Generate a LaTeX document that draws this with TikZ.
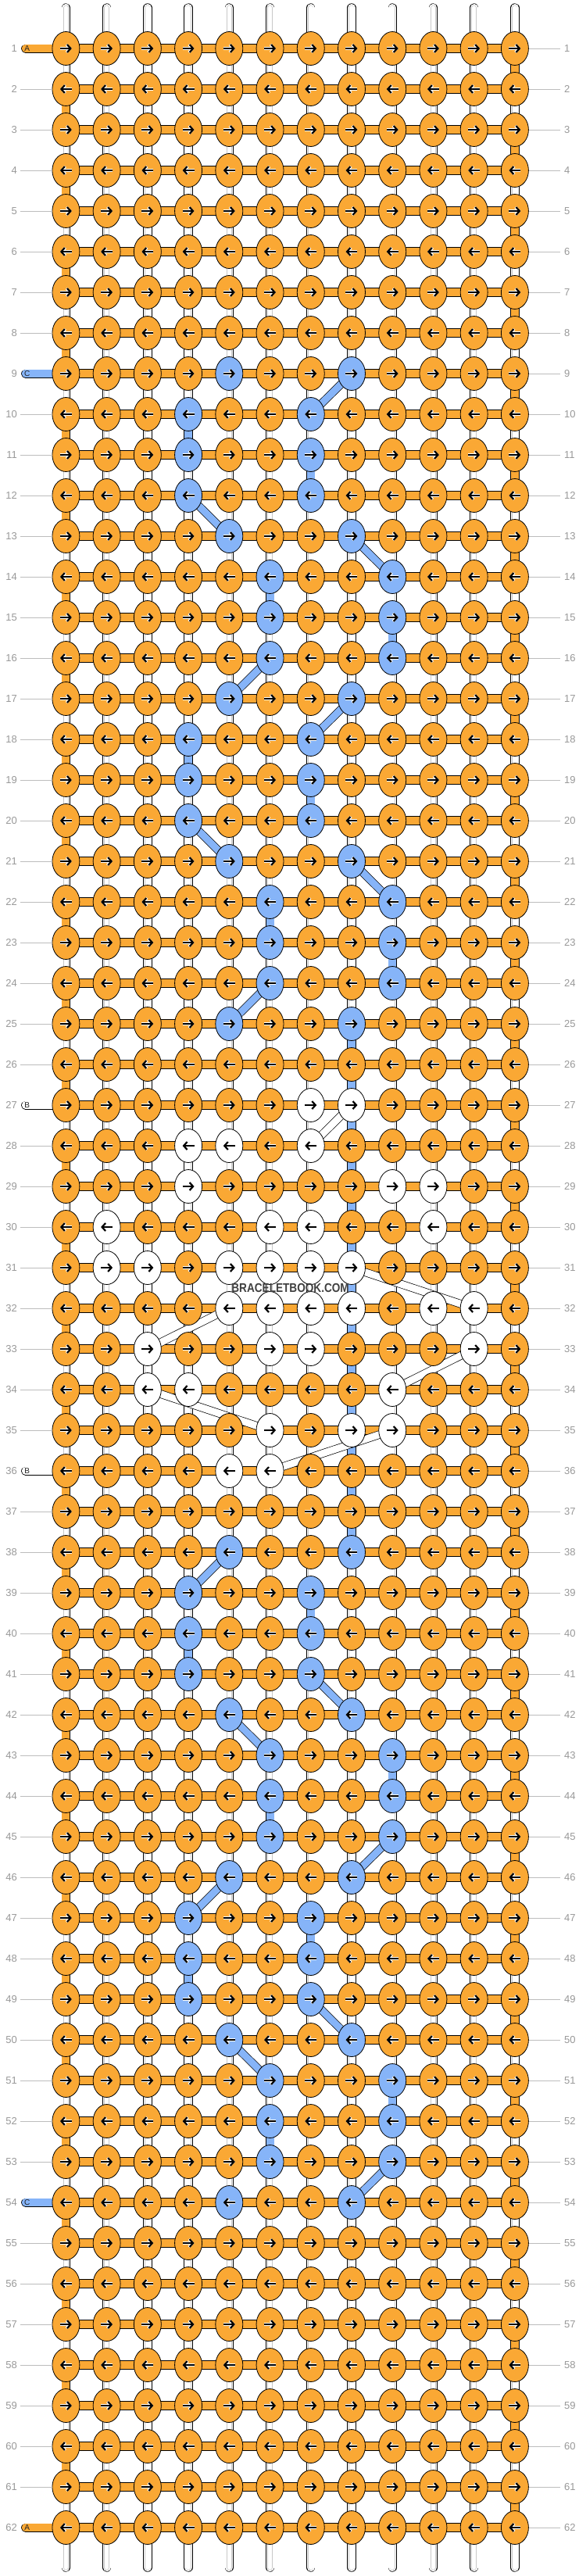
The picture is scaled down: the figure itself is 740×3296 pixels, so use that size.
\documentclass[tikz,border=0pt]{standalone}
\usepackage{fontspec}
\setmainfont{Liberation Sans}
\usetikzlibrary{shapes.geometric,arrows.meta}
\definecolor{og}{HTML}{FAA834}
\definecolor{bl}{HTML}{86B4F8}
\definecolor{wt}{HTML}{FFFFFF}
\definecolor{lblgray}{HTML}{999999}
\definecolor{linegray}{HTML}{BDBDBD}
\definecolor{innergray}{HTML}{C8C8C8}
\definecolor{wmgray}{HTML}{404040}
\definecolor{stubtxt}{HTML}{222222}
\newcommand\setknot[3]{\expandafter\gdef\csname kc-#1-#2\endcsname{#3}}
\newcommand\getknot[2]{\ifcsname kc-#1-#2\endcsname\csname kc-#1-#2\endcsname\else og\fi}
\newcommand\setvc[3]{\expandafter\gdef\csname vc-#1-#2\endcsname{#3}}
\newcommand\getvc[2]{\ifcsname vc-#1-#2\endcsname\csname vc-#1-#2\endcsname\else wt\fi}
\newcommand\colx[1]{84.4+52.227*(#1-1)}
\newcommand\rowy[1]{62+52*(#1-1)}
\def\wtname{wt}
\tikzset{
  knot/.style={ellipse, minimum width=35pt, minimum height=43pt, inner sep=0pt, draw=black, line width=0.8pt},
  hbar/.style={draw=black, double=og, double distance=10.6pt, line width=0.7pt},
  vbar/.style={draw=black, double distance=10pt, line width=0.7pt},
  dbar/.style={draw=black, double distance=9pt, line width=0.7pt},
  thread/.style={draw=black, double=white, double distance=10pt, line width=0.7pt, line cap=round},
  innerA/.style={draw=innergray, line width=7pt},
  innerB/.style={draw=white, line width=5.6pt},
  stubline/.style={draw=black, double distance=9.6pt, line width=0.7pt, line cap=round},
  arr/.style={black, line width=2.2pt, -{Straight Barb[length=4.5pt,width=10pt]}},
  arrhalo/.style={white, line width=3.4pt, -{Straight Barb[length=4.5pt,width=10pt]}},
  lbl/.style={inner sep=0pt, text=lblgray, font=\fontsize{13}{13}\selectfont},
  stublbl/.style={inner sep=0pt, text=stubtxt, font=\fontsize{10}{10}\selectfont},
  guide/.style={draw=linegray, line width=0.9pt}
}
\begin{document}
\begin{tikzpicture}[x=1pt,y=-1pt]
\useasboundingbox (0,0) rectangle (740,3296);
\fill[white] (0,0) rectangle (740,3296);
% ---- data ----
\foreach \r in {9,13,17,21,25,38,42,46,50,54} {\setknot{\r}{5}{bl}\setknot{\r}{8}{bl}}
\foreach \r in {10,11,12,18,19,20,39,40,41,47,48,49} {\setknot{\r}{4}{bl}\setknot{\r}{7}{bl}}
\foreach \r in {14,15,16,22,23,24,43,44,45,51,52,53} {\setknot{\r}{6}{bl}\setknot{\r}{9}{bl}}
\foreach \r/\lst in {27/{7,8},28/{4,5,7},29/{4,9,10},30/{2,6,7,10},31/{2,3,5,6,7,8},32/{5,6,7,8,10,11},33/{3,6,7,11},34/{3,4,9},35/{6,8,9},36/{5,6}} {\foreach \c in \lst {\setknot{\r}{\c}{wt}}}
\foreach \r in {2,4,...,60} {\setvc{\r}{1}{og}}
\foreach \r in {1,3,...,61} {\setvc{\r}{12}{og}}
\foreach \r in {10,18,40,48} {\setvc{\r}{4}{bl}}
\foreach \r in {11,19,39,47} {\setvc{\r}{7}{bl}}
\foreach \r in {14,22,44,52} {\setvc{\r}{6}{bl}}
\foreach \r in {15,23,43,51} {\setvc{\r}{9}{bl}}
\foreach \r in {25,...,37} {\setvc{\r}{8}{bl}}
% ---- coordinates ----
\foreach \r in {1,...,62} {\foreach \c in {1,...,12} {\coordinate (p-\r-\c) at ({\colx{\c}},{\rowy{\r}});}}
% ---- threads top / bottom ----
\foreach \c in {1,...,12} {
  \coordinate (tt-\c) at ({\colx{\c}},10);
  \coordinate (bt-\c) at ({\colx{\c}},3285);
  \draw[thread] (tt-\c) -- (p-1-\c);
  \draw[innerA, line cap=round] (tt-\c) -- (p-1-\c);
  \draw[innerB, line cap=round] (tt-\c) -- (p-1-\c);
  \draw[thread] (p-62-\c) -- (bt-\c);
  \draw[innerA, line cap=round] (p-62-\c) -- (bt-\c);
  \draw[innerB, line cap=round] (p-62-\c) -- (bt-\c);
}
% ---- horizontal bars ----
\foreach \r in {1,...,62} {\foreach \c [count=\cn from 2] in {1,...,11} {\draw[hbar] (p-\r-\c) -- (p-\r-\cn);}}
% ---- vertical connectors ----
\foreach \r [count=\rn from 2] in {1,...,61} {\foreach \c in {1,...,12} {
  \edef\vcc{\getvc{\r}{\c}}
  \draw[vbar, double=\vcc] (p-\r-\c) -- (p-\rn-\c);
  \ifx\vcc\wtname
    \draw[innerA] (p-\r-\c) -- (p-\rn-\c);
    \draw[innerB] (p-\r-\c) -- (p-\rn-\c);
  \fi
}}
% ---- diagonals ----
\foreach \ra/\ca/\rb/\cb in {9/8/10/7,12/4/13/5,13/8/14/9,16/6/17/5,17/8/18/7,20/4/21/5,21/8/22/9,24/6/25/5,38/5/39/4,41/7/42/8,42/5/43/6,45/9/46/8,46/5/47/4,49/7/50/8,50/5/51/6,53/9/54/8} {\draw[dbar, double=bl] (p-\ra-\ca) -- (p-\rb-\cb);}
\foreach \ra/\ca/\rb/\cb in {27/8/28/7,31/8/32/11,32/5/33/3,33/11/34/9,34/3/35/6,35/9/36/6} {\draw[dbar, double=wt] (p-\ra-\ca) -- (p-\rb-\cb);}
% ---- stubs ----
\foreach \r/\col in {1/og,9/bl,27/wt,36/wt,54/bl,62/og} {
  \coordinate (s-\r) at (32.6,{\rowy{\r}});
  \draw[stubline, double=\col] (s-\r) -- (p-\r-1);
}
% ---- knots ----
\foreach \r in {1,...,62} {\foreach \c in {1,...,12} {
  \edef\kc{\getknot{\r}{\c}}
  \node[knot, fill=\kc] (k-\r-\c) at (p-\r-\c) {};
  \ifodd\r
    \draw[arrhalo] ([xshift=-7.5pt]k-\r-\c.center) -- ([xshift=7.5pt]k-\r-\c.center);
    \draw[arr] ([xshift=-7.5pt]k-\r-\c.center) -- ([xshift=7.5pt]k-\r-\c.center);
  \else
    \draw[arrhalo] ([xshift=7.5pt]k-\r-\c.center) -- ([xshift=-7.5pt]k-\r-\c.center);
    \draw[arr] ([xshift=7.5pt]k-\r-\c.center) -- ([xshift=-7.5pt]k-\r-\c.center);
  \fi
}}
% ---- stub labels ----
\foreach \r/\lab in {1/A,9/C,27/B,36/B,54/C,62/A} {\node[stublbl] (sl-\r) at (34.7,{\rowy{\r}}) {\lab};}
% ---- row labels and guides ----
\foreach \r in {1,...,62} {
  \coordinate (gl-\r) at (26,{\rowy{\r}});
  \coordinate (gr-\r) at (717,{\rowy{\r}});
  \node[lbl, anchor=east] (lt-\r) at (22,{\rowy{\r}}) {\r};
  \node[lbl, anchor=west] (rt-\r) at (722,{\rowy{\r}}) {\r};
  \draw[guide] (k-\r-12) -- (gr-\r);
}
\foreach \r in {2,...,8,10,11,...,26,28,29,...,35,37,38,...,53,55,56,...,61} {\draw[guide] (gl-\r) -- (k-\r-1);}
% ---- watermark ----
\node[inner sep=0pt, text=wmgray, font=\bfseries\fontsize{16}{16}\selectfont] (wm) at (371.6,1647.5) {\scalebox{0.85}[1]{BRACELETBOOK.COM}};
\end{tikzpicture}
\end{document}
